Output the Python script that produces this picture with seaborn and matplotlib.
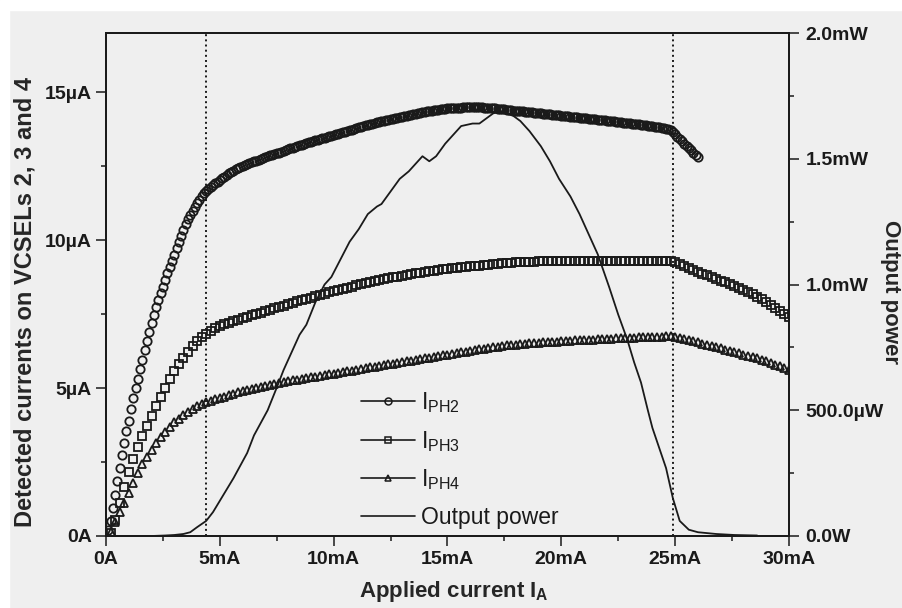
import numpy as np
import matplotlib
matplotlib.use("Agg")
import matplotlib.pyplot as plt
from matplotlib.lines import Line2D
from matplotlib.patches import Rectangle
from matplotlib.ticker import MultipleLocator
import seaborn as sns

# Sweeps of the applied current (mA): PH2 was logged every 0.1 mA, PH3/PH4 every 0.2 mA
sweep_fine = np.round(np.arange(1, 261) * 0.1, 1)
sweep_ma = np.round(np.arange(1, 151) * 0.2, 1)

# Detected photocurrents (uA)
i_ph2 = [
    0.2, 0.5, 0.95, 1.4, 1.85, 2.3, 2.75, 3.15, 3.55, 3.9,
    4.28, 4.65, 5.0, 5.3, 5.63, 5.95, 6.28, 6.6, 6.9, 7.2,
    7.48, 7.75, 7.98, 8.2, 8.43, 8.65, 8.88, 9.1, 9.3, 9.5,
    9.73, 9.95, 10.15, 10.35, 10.53, 10.7, 10.85, 11.0, 11.13, 11.25,
    11.37, 11.48, 11.58, 11.67, 11.74, 11.8, 11.86, 11.92, 11.98, 12.04,
    12.1, 12.15, 12.21, 12.26, 12.31, 12.35, 12.39, 12.43, 12.47, 12.5,
    12.54, 12.57, 12.6, 12.63, 12.66, 12.69, 12.72, 12.75, 12.78, 12.8,
    12.83, 12.86, 12.89, 12.91, 12.94, 12.96, 12.99, 13.02, 13.05, 13.07,
    13.1, 13.12, 13.15, 13.17, 13.2, 13.22, 13.25, 13.27, 13.3, 13.32,
    13.35, 13.37, 13.4, 13.42, 13.44, 13.46, 13.49, 13.51, 13.53, 13.55,
    13.58, 13.6, 13.62, 13.64, 13.67, 13.69, 13.71, 13.73, 13.76, 13.78,
    13.81, 13.83, 13.86, 13.88, 13.9, 13.92, 13.94, 13.96, 13.98, 14.0,
    14.02, 14.04, 14.06, 14.07, 14.09, 14.1, 14.12, 14.14, 14.16, 14.17,
    14.19, 14.2, 14.22, 14.23, 14.25, 14.27, 14.29, 14.3, 14.32, 14.33,
    14.35, 14.36, 14.38, 14.39, 14.4, 14.41, 14.42, 14.43, 14.44, 14.45,
    14.46, 14.46, 14.47, 14.47, 14.48, 14.48, 14.49, 14.49, 14.49, 14.49,
    14.49, 14.49, 14.49, 14.49, 14.49, 14.48, 14.48, 14.47, 14.47, 14.46,
    14.45, 14.44, 14.43, 14.42, 14.42, 14.41, 14.4, 14.39, 14.38, 14.37,
    14.37, 14.36, 14.35, 14.34, 14.33, 14.32, 14.32, 14.31, 14.3, 14.29,
    14.28, 14.27, 14.27, 14.26, 14.25, 14.24, 14.23, 14.22, 14.22, 14.21,
    14.2, 14.19, 14.18, 14.17, 14.17, 14.16, 14.15, 14.14, 14.13, 14.12,
    14.12, 14.11, 14.1, 14.09, 14.08, 14.07, 14.07, 14.06, 14.05, 14.04,
    14.03, 14.02, 14.01, 14.0, 13.99, 13.98, 13.97, 13.96, 13.96, 13.95,
    13.94, 13.93, 13.92, 13.91, 13.9, 13.89, 13.88, 13.87, 13.86, 13.84,
    13.83, 13.82, 13.81, 13.79, 13.78, 13.76, 13.74, 13.71, 13.66, 13.58,
    13.5, 13.42, 13.34, 13.26, 13.18, 13.1, 13.03, 12.95, 12.88, 12.8,
]
i_ph3 = [
    0.1, 0.55, 1.1, 1.65, 2.15, 2.6, 3.0, 3.38, 3.72, 4.05,
    4.38, 4.7, 5.0, 5.3, 5.56, 5.8, 6.03, 6.23, 6.42, 6.6,
    6.73, 6.84, 6.94, 7.03, 7.1, 7.16, 7.21, 7.26, 7.31, 7.36,
    7.41, 7.46, 7.5, 7.55, 7.6, 7.65, 7.7, 7.74, 7.79, 7.84,
    7.88, 7.93, 7.97, 8.02, 8.06, 8.1, 8.15, 8.19, 8.23, 8.27,
    8.31, 8.35, 8.39, 8.43, 8.47, 8.51, 8.55, 8.59, 8.62, 8.65,
    8.68, 8.71, 8.74, 8.77, 8.8, 8.83, 8.85, 8.88, 8.9, 8.93,
    8.95, 8.97, 8.99, 9.01, 9.03, 9.05, 9.07, 9.08, 9.1, 9.11,
    9.13, 9.14, 9.16, 9.17, 9.19, 9.2, 9.21, 9.23, 9.24, 9.25,
    9.26, 9.26, 9.27, 9.27, 9.28, 9.28, 9.29, 9.29, 9.29, 9.3,
    9.3, 9.3, 9.3, 9.3, 9.3, 9.31, 9.31, 9.31, 9.31, 9.31,
    9.31, 9.31, 9.31, 9.31, 9.31, 9.31, 9.31, 9.31, 9.31, 9.31,
    9.31, 9.31, 9.31, 9.31, 9.25, 9.18, 9.12, 9.05, 8.99, 8.93,
    8.87, 8.81, 8.75, 8.69, 8.63, 8.57, 8.51, 8.45, 8.39, 8.32,
    8.25, 8.17, 8.09, 8.0, 7.91, 7.82, 7.72, 7.62, 7.51, 7.4,
]
i_ph4 = [
    0.15, 0.48, 0.8, 1.13, 1.47, 1.8, 2.12, 2.42, 2.68, 2.92,
    3.14, 3.34, 3.52, 3.69, 3.84, 3.97, 4.09, 4.2, 4.3, 4.39,
    4.46, 4.52, 4.57, 4.62, 4.66, 4.71, 4.75, 4.8, 4.85, 4.9,
    4.95, 4.98, 5.01, 5.04, 5.08, 5.11, 5.14, 5.17, 5.2, 5.23,
    5.26, 5.28, 5.31, 5.34, 5.36, 5.39, 5.41, 5.44, 5.47, 5.49,
    5.52, 5.54, 5.57, 5.59, 5.62, 5.64, 5.67, 5.7, 5.72, 5.75,
    5.78, 5.8, 5.83, 5.86, 5.88, 5.91, 5.93, 5.96, 5.98, 6.01,
    6.03, 6.06, 6.08, 6.11, 6.13, 6.16, 6.18, 6.21, 6.23, 6.26,
    6.28, 6.31, 6.33, 6.36, 6.38, 6.4, 6.42, 6.44, 6.45, 6.47,
    6.48, 6.49, 6.51, 6.52, 6.53, 6.54, 6.55, 6.56, 6.57, 6.58,
    6.59, 6.6, 6.61, 6.62, 6.63, 6.63, 6.64, 6.65, 6.66, 6.66,
    6.67, 6.68, 6.68, 6.69, 6.7, 6.7, 6.71, 6.72, 6.72, 6.73,
    6.74, 6.74, 6.75, 6.76, 6.74, 6.7, 6.66, 6.62, 6.58, 6.54,
    6.5, 6.46, 6.42, 6.38, 6.34, 6.3, 6.26, 6.22, 6.18, 6.13,
    6.09, 6.04, 6.0, 5.95, 5.9, 5.85, 5.79, 5.73, 5.67, 5.6,
]

# Optical output power (mW) vs applied current (mA)
power_ma = [
    0.0, 1.0, 2.0, 2.6, 3.0, 3.4, 3.7, 4.0, 4.4, 4.7,
    5.0, 5.3, 5.6, 5.9, 6.2, 6.5, 6.8, 7.1, 7.5, 7.8,
    8.2, 8.5, 8.8, 9.2, 9.6, 9.9, 10.3, 10.7, 11.1, 11.5,
    11.9, 12.1, 12.5, 12.9, 13.3, 13.7, 13.9, 14.2, 14.5, 14.9,
    15.3, 15.6, 16.1, 16.4, 16.7, 17.0, 17.3, 17.6, 17.9, 18.2,
    18.6, 19.1, 19.5, 19.9, 20.4, 20.8, 21.2, 21.6, 22.1, 22.5,
    22.9, 23.2, 23.5, 23.8, 24.0, 24.3, 24.6, 24.9, 25.2, 25.6,
    26.0, 26.8, 27.6, 28.6,
]
power_mw = [
    0.0, 0.0, 0.0, 0.002, 0.004, 0.008, 0.015, 0.035, 0.06, 0.095,
    0.14, 0.185, 0.23, 0.28, 0.33, 0.4, 0.45, 0.5, 0.59, 0.66,
    0.74, 0.8, 0.84, 0.93, 1.0, 1.03, 1.1, 1.17, 1.22, 1.28,
    1.31, 1.32, 1.37, 1.42, 1.45, 1.49, 1.51, 1.49, 1.51, 1.56,
    1.6, 1.63, 1.64, 1.64, 1.66, 1.68, 1.69, 1.68, 1.67, 1.65,
    1.61, 1.55, 1.49, 1.42, 1.35, 1.28, 1.2, 1.12, 0.99, 0.88,
    0.78, 0.69, 0.61, 0.5, 0.43, 0.35, 0.27, 0.15, 0.06, 0.025,
    0.015, 0.008, 0.004, 0.002,
]

# Threshold currents marked by the dotted lines (mA)
threshold_ma = [4.4, 24.9]

x_ticks = [0, 5, 10, 15, 20, 25, 30]
x_labels = ["0A", "5mA", "10mA", "15mA", "20mA", "25mA", "30mA"]
left_ticks = [0, 5, 10, 15]
left_labels = ["0A", "5µA", "10µA", "15µA"]
right_ticks = [0, 0.5, 1.0, 1.5, 2.0]
right_labels = ["0.0W", "500.0µW", "1.0mW", "1.5mW", "2.0mW"]

ink = "#1a1a1a"
paper = "#efefef"

sns.set_theme(style="ticks")
plt.rcParams["font.family"] = ["Liberation Sans", "DejaVu Sans"]
plt.rcParams["axes.edgecolor"] = ink
plt.rcParams["xtick.color"] = ink
plt.rcParams["ytick.color"] = ink
plt.rcParams["text.color"] = ink

fig = plt.figure(figsize=(9.03, 6.08), dpi=100, facecolor=paper)
# white margin of the scanned page
fig.patches.append(Rectangle((0, 1 - 10 / 608), 1, 10 / 608, transform=fig.transFigure,
                             color="white", zorder=-5))
fig.patches.append(Rectangle((0, 0), 9 / 903, 1, transform=fig.transFigure,
                             color="white", zorder=-5))

ax = fig.add_axes([106 / 903, 1 - 536 / 608, 683 / 903, 503 / 608])
ax.set_facecolor("none")
ax2 = ax.twinx()
ax2.set_facecolor("none")

mk = dict(linestyle="", markerfacecolor="none", markeredgecolor=ink,
          markersize=6.0, markeredgewidth=1.3, color=ink, legend=False)
sns.lineplot(x=sweep_fine, y=i_ph2, marker="o", ax=ax, **mk)
sns.lineplot(x=sweep_ma, y=i_ph3, marker="s", ax=ax, **mk)
sns.lineplot(x=sweep_ma, y=i_ph4, marker="^", ax=ax, **mk)

sns.lineplot(x=power_ma, y=power_mw, ax=ax2, color=ink, linewidth=1.3, legend=False)

for t in threshold_ma:
    ax.axvline(t, color=ink, linestyle=":", linewidth=1.4)

ax.set_xlim(0, 30)
ax.set_ylim(0, 17.0)
ax2.set_ylim(0, 2.0)

ax.set_xticks(x_ticks)
ax.set_xticklabels(x_labels)
ax.set_yticks(left_ticks)
ax.set_yticklabels(left_labels)
ax2.set_yticks(right_ticks)
ax2.set_yticklabels(right_labels)
ax.xaxis.set_minor_locator(MultipleLocator(2.5))
ax.yaxis.set_minor_locator(MultipleLocator(2.5))
ax2.yaxis.set_minor_locator(MultipleLocator(0.25))

for a in (ax, ax2):
    for s in a.spines.values():
        s.set_visible(True)
        s.set_linewidth(1.3)
        s.set_color(ink)
    a.tick_params(which="major", length=7, width=1.1, labelsize=14, direction="out")
    a.tick_params(which="minor", length=3.5, width=1.1, direction="out")
    for lab in a.get_xticklabels() + a.get_yticklabels():
        lab.set_fontweight("bold")
ax.tick_params(axis="y", pad=3)
ax.tick_params(axis="x", pad=4)
ax2.tick_params(axis="y", pad=5)

ax.set_xlabel("Applied current I$_{\\mathregular{A}}$", fontsize=16, fontweight="bold",
              va="center")
ax.xaxis.set_label_coords(0.51, -0.11)
ax.set_ylabel("Detected currents on VCSELs 2, 3 and 4", fontsize=17, fontweight="bold",
              va="center")
ax.yaxis.set_label_coords(-0.118, 0.465)
ax2.set_ylabel("Output power", fontsize=16, fontweight="bold", rotation=270, va="center")
ax2.yaxis.set_label_coords(1.148, 0.485)

handles = [
    Line2D([], [], color=ink, lw=1.2, marker="o", mfc="none", mec=ink, ms=5, mew=1.1),
    Line2D([], [], color=ink, lw=1.2, marker="s", mfc="none", mec=ink, ms=5, mew=1.1),
    Line2D([], [], color=ink, lw=1.2, marker="^", mfc="none", mec=ink, ms=5, mew=1.1),
    Line2D([], [], color=ink, lw=1.2),
]
labels = ["I$_{\\mathregular{PH2}}$", "I$_{\\mathregular{PH3}}$",
          "I$_{\\mathregular{PH4}}$", "Output power"]
ax2.legend(handles, labels, loc="upper left", bbox_to_anchor=(0.373, 0.29),
           frameon=False, fontsize=16.5, handlelength=2.35, handletextpad=0.3,
           labelspacing=0.6, borderpad=0, borderaxespad=0, numpoints=1)

fig.savefig("out.png", dpi=100, facecolor=paper)
